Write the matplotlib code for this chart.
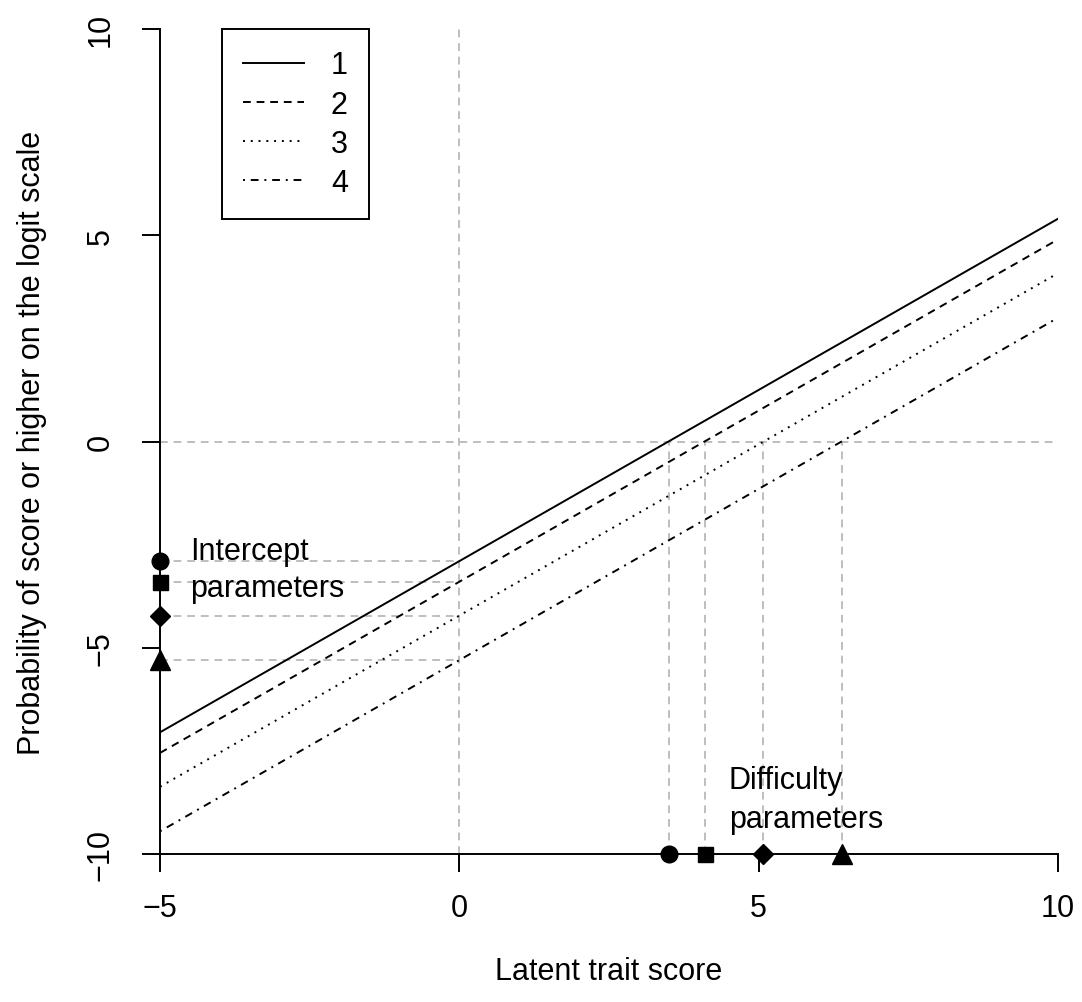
import numpy as np
import matplotlib
matplotlib.use('Agg')
import matplotlib.pyplot as plt

plt.rcParams['font.family'] = ['Liberation Sans', 'DejaVu Sans']

# values
slope = 0.83
intercepts = [-2.9, -3.4, -4.22, -5.3]
difficulties = [3.5, 4.1, 5.08, 6.4]
labels = ['1', '2', '3', '4']
markers = ['o', 's', 'D', '^']
msizes = [12, 10.8, 9.7, 14]
dash_styles = ['-', (0, (4, 3)), (0, (1, 3)), (0, (1, 3, 4, 3))]

x_range = np.array([-5, 10])
xlim = (-5, 10)
ylim = (-10, 10)

fs = 22
lw = 1.4
grey = '#BEBEBE'

fig = plt.figure(figsize=(10.82, 10.03), dpi=100)
ax = fig.add_axes([160 / 1082, 1 - 855 / 1003, 898 / 1082, 825 / 1003])

# reference lines at zero
ax.axvline(0, color=grey, lw=lw, ls=(0, (4, 3)), zorder=1)
ax.axhline(0, color=grey, lw=lw, ls=(0, (4, 3)), zorder=1)

for b, d in zip(intercepts, difficulties):
    ax.plot([xlim[0], 0], [b, b], color=grey, lw=lw, ls=(0, (4, 3)), zorder=1)
    ax.plot([d, d], [ylim[0], 0], color=grey, lw=lw, ls=(0, (4, 3)), zorder=1)

# cumulative logit lines
for b, ls, lab in zip(intercepts, dash_styles, labels):
    ax.plot(x_range, b + slope * x_range, color='black', lw=lw, ls=ls, label=lab, zorder=2)

# parameter markers
for b, d, m, ms in zip(intercepts, difficulties, markers, msizes):
    ax.plot([xlim[0]], [b], marker=m, ms=ms, color='black', ls='none', clip_on=False, zorder=4)
    ax.plot([d], [ylim[0]], marker=m, ms=ms, color='black', ls='none', clip_on=False, zorder=4)

ax.text(-4.5, -3.75, 'Intercept\nparameters', fontsize=fs, ha='left', va='baseline', linespacing=1.3)
ax.text(4.5, -9.35, 'Difficulty\nparameters', fontsize=fs, ha='left', va='baseline', linespacing=1.4)

ax.set_xlim(*xlim)
ax.set_ylim(*ylim)
ax.set_xticks([-5, 0, 5, 10])
ax.set_yticks([-10, -5, 0, 5, 10])
for side in ['top', 'right']:
    ax.spines[side].set_visible(False)
for side in ['left', 'bottom']:
    ax.spines[side].set_linewidth(lw)
ax.tick_params(axis='both', length=13, width=lw, labelsize=fs)
ax.tick_params(axis='x', pad=15)
ax.tick_params(axis='y', pad=19, labelrotation=90)
for t in ax.get_yticklabels():
    t.set_va('center')

ax.set_xlabel('Latent trait score', fontsize=fs, labelpad=24)
ax.set_ylabel('Probability of score or higher on the logit scale', fontsize=fs, labelpad=28)

leg = ax.legend(loc='upper left', bbox_to_anchor=((222 - 160) / 898, 1.0), borderaxespad=0,
                fontsize=fs, handlelength=1.97, handletextpad=0.89, labelspacing=0.3,
                borderpad=0.7, fancybox=False, framealpha=1, edgecolor='black')
leg.get_frame().set_linewidth(lw)

fig.savefig('out.png', dpi=100)
